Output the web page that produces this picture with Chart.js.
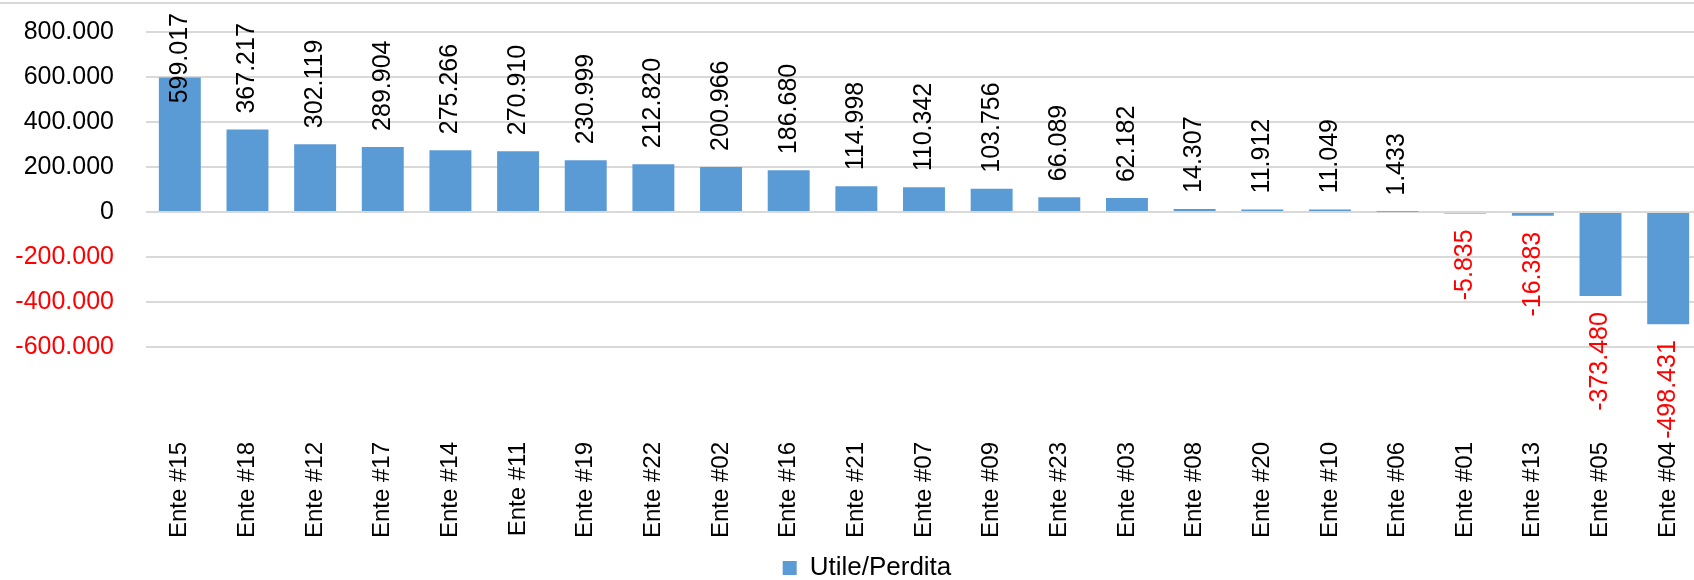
<!DOCTYPE html>
<html>
<head>
<meta charset="utf-8">
<script src="https://cdn.jsdelivr.net/npm/chart.js@4/dist/chart.umd.min.js"></script>
<style>
  html, body { margin: 0; padding: 0; background: #ffffff; overflow: hidden; width: 1694px; height: 580px; }
  #wrap { position: absolute; left: 0; top: 0; }
  canvas { display: block; }
</style>
</head>
<body>
<div id="wrap"><canvas id="c" width="1734" height="591"></canvas></div>
<script>
// ---- data ----
const categories = ['Ente #15', 'Ente #18', 'Ente #12', 'Ente #17', 'Ente #14', 'Ente #11', 'Ente #19', 'Ente #22', 'Ente #02', 'Ente #16', 'Ente #21', 'Ente #07', 'Ente #09', 'Ente #23', 'Ente #03', 'Ente #08', 'Ente #20', 'Ente #10', 'Ente #06', 'Ente #01', 'Ente #13', 'Ente #05', 'Ente #04'];
const values = [599017, 367217, 302119, 289904, 275266, 270910, 230999, 212820, 200966, 186680, 114998, 110342, 103756, 66089, 62182, 14307, 11912, 11049, 1433, -5835, -16383, -373480, -498431];
const seriesName = 'Utile/Perdita';
const yTickValues = [-600000, -400000, -200000, 0, 200000, 400000, 600000, 800000];
const yMin = -600000;
const yMax = 930000;

// ---- styles ----
const FONT = '"Liberation Sans", Arial, sans-serif';
const BAR_COLOR = '#5B9BD5';
const GRID_COLOR = '#D9D9D9';
const LABEL_GAP = 16;

function fmt(v) {
  const s = Math.abs(Math.round(v)).toString().replace(/\B(?=(\d{3})+(?!\d))/g, '.');
  return (v < 0 ? '-' : '') + s;
}

const frameLine = {
  id: 'frameLine',
  beforeDraw(chart) {
    const ctx = chart.ctx;
    ctx.save();
    ctx.strokeStyle = GRID_COLOR;
    ctx.lineWidth = 2;
    ctx.beginPath();
    ctx.moveTo(0, 3);
    ctx.lineTo(chart.width, 3);
    ctx.stroke();
    ctx.restore();
  }
};

const valueLabels = {
  id: 'valueLabels',
  afterDatasetsDraw(chart) {
    const ctx = chart.ctx;
    const meta = chart.getDatasetMeta(0);
    ctx.save();
    ctx.font = '25px ' + FONT;
    ctx.textBaseline = 'middle';
    meta.data.forEach((bar, i) => {
      const v = values[i];
      const text = fmt(v);
      const w = ctx.measureText(text).width;
      const p = bar.getProps(['x', 'y', 'base'], true);
      ctx.save();
      if (v >= 0) {
        let start = p.y - LABEL_GAP;
        start = Math.max(start, chart.chartArea.top + 10 + w);
        ctx.translate(p.x, start);
        ctx.rotate(-Math.PI / 2);
        ctx.textAlign = 'left';
        ctx.fillStyle = '#000000';
      } else {
        ctx.translate(p.x, p.y + LABEL_GAP);
        ctx.rotate(-Math.PI / 2);
        ctx.textAlign = 'right';
        ctx.fillStyle = '#FF0000';
      }
      ctx.fillText(text, 0, 0);
      ctx.restore();
    });
    ctx.restore();
  }
};

new Chart(document.getElementById('c'), {
  type: 'bar',
  data: {
    labels: categories,
    datasets: [{
      label: seriesName,
      data: values,
      backgroundColor: BAR_COLOR,
      borderWidth: 0,
      categoryPercentage: 1.0,
      barPercentage: 0.62
    }]
  },
  plugins: [frameLine, valueLabels],
  options: {
    responsive: false,
    animation: false,
    layout: { padding: { top: 3, left: 0, right: 0, bottom: 0 } },
    plugins: {
      legend: {
        position: 'bottom',
        labels: {
          boxWidth: 14,
          boxHeight: 14,
          color: '#000000',
          padding: 10,
          font: { family: FONT, size: 26 }
        }
      },
      tooltip: { enabled: false }
    },
    scales: {
      x: {
        grid: { display: false },
        border: { display: false },
        ticks: {
          autoSkip: false,
          minRotation: 90,
          maxRotation: 90,
          padding: 87,
          color: '#000000',
          font: { family: FONT, size: 24 }
        },
        afterFit(scale) {
          scale.height = 198;
          scale.paddingLeft = 0;
          scale.paddingRight = 0;
        }
      },
      y: {
        min: yMin,
        max: yMax,
        grid: { color: GRID_COLOR, lineWidth: 2, drawTicks: false },
        border: { display: false },
        afterBuildTicks(scale) {
          scale.ticks = yTickValues.map(v => ({ value: v }));
        },
        ticks: {
          padding: 32,
          color: (c) => (c.tick && c.tick.value < 0) ? '#FF0000' : '#000000',
          font: { family: FONT, size: 25 },
          callback: (v) => fmt(v)
        },
        afterFit(scale) {
          scale.width = 146;
          scale.paddingTop = 0;
          scale.paddingBottom = 0;
        }
      },
      yRight: {
        type: 'linear',
        position: 'right',
        display: true,
        grid: { display: false },
        border: { display: false },
        ticks: { display: false },
        afterFit(scale) {
          scale.width = 32;
          scale.paddingTop = 0;
          scale.paddingBottom = 0;
        }
      }
    }
  }
});
</script>
</body>
</html>
